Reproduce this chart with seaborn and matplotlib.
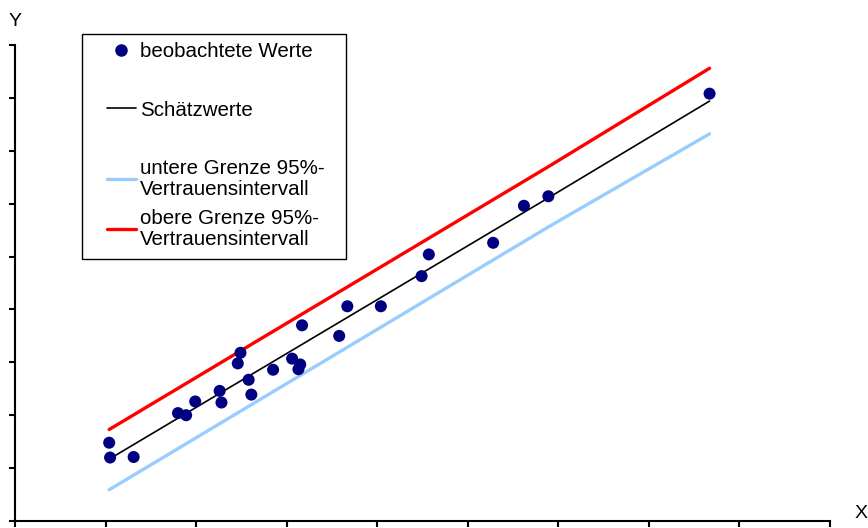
import matplotlib
matplotlib.use("Agg")
import matplotlib.pyplot as plt
import numpy as np
import pandas as pd
import seaborn as sns
from matplotlib.lines import Line2D
from matplotlib.patches import Rectangle

obs_x = [1.04, 1.05, 1.31, 1.80, 1.89, 1.99, 2.26, 2.28, 2.46, 2.49,
         2.58, 2.61, 2.85, 3.06, 3.15, 3.13, 3.17, 3.58, 3.67, 4.04,
         4.49, 4.57, 5.28, 5.62, 5.89, 7.67]
obs_y = [1.48, 1.20, 1.21, 2.04, 2.00, 2.26, 2.46, 2.24, 2.98, 3.18,
         2.67, 2.39, 2.86, 3.07, 2.96, 2.87, 3.70, 3.50, 4.06, 4.06,
         4.63, 5.04, 5.26, 5.96, 6.14, 8.08]

# regression line and 95% confidence limits
line_x = [1.04, 5.89, 7.67]
fit_y = [1.17, 6.11, 7.94]
lower_y = [0.59, 5.56, 7.32]
upper_y = [1.73, 6.70, 8.56]

sns.set_style("white")
plt.rcParams['font.family'] = ['Liberation Sans', 'DejaVu Sans']
plt.rcParams['text.color'] = 'black'

fig = plt.figure(figsize=(8.68, 5.28), dpi=100)
ax = fig.add_axes([15 / 868, 1 - 521 / 528, 815 / 868, 476 / 528])

df_obs = pd.DataFrame({'x': obs_x, 'y': obs_y})
df_line = pd.DataFrame({'x': line_x, 'fit': fit_y, 'lo': lower_y, 'hi': upper_y})

sns.lineplot(data=df_line, x='x', y='lo', color='#99ccff', lw=2.4, ax=ax)
sns.lineplot(data=df_line, x='x', y='hi', color='#ff0000', lw=2.4, ax=ax)
sns.lineplot(data=df_line, x='x', y='fit', color='black', lw=1.2, ax=ax)
sns.scatterplot(data=df_obs, x='x', y='y', color='#000080', s=75,
                edgecolor='none', ax=ax, zorder=5)

ax.set_xlim(0, 9)
ax.set_ylim(0, 9)
ax.set_xticks(np.arange(0, 10))
ax.set_yticks(np.arange(0, 10))
ax.set_xticklabels([])
ax.set_yticklabels([])
ax.set_xlabel('')
ax.set_ylabel('')
ax.tick_params(axis='both', direction='out', length=4, width=1.5,
               color='black', bottom=True, left=True)
for side in ['top', 'right']:
    ax.spines[side].set_visible(False)
for side in ['left', 'bottom']:
    ax.spines[side].set_color('black')
    ax.spines[side].set_linewidth(1.5)

fig.text(15 / 868, 1 - 22 / 528, 'Y', ha='center', va='center', fontsize=14)
fig.text(861 / 868, 1 - 513 / 528, 'X', ha='center', va='center', fontsize=14)

# legend box
fig.patches.append(Rectangle((82 / 868, 1 - 259 / 528), 264 / 868, 225 / 528,
                             transform=fig.transFigure, fill=False,
                             edgecolor='black', lw=1.0))
blank = Line2D([], [], color='none')
handles = [
    Line2D([], [], marker='o', color='#000080', ls='none', markersize=8),
    blank,
    Line2D([], [], color='black', lw=1.2),
    blank,
    Line2D([], [], color='#99ccff', lw=2.4),
    Line2D([], [], color='#ff0000', lw=2.4),
]
labels = ['beobachtete Werte', '', 'Schätzwerte', '',
          'untere Grenze 95%-\nVertrauensintervall',
          'obere Grenze 95%-\nVertrauensintervall']
leg = fig.legend(handles, labels, loc='upper left',
                 bbox_to_anchor=(107 / 868, 1 - 42 / 528), frameon=False,
                 borderpad=0, borderaxespad=0, fontsize=14.8, handlelength=1.4,
                 handletextpad=0.2, labelspacing=0.5)
for t in leg.get_texts():
    t.set_linespacing(1.12)

fig.savefig('out.png', dpi=100)
